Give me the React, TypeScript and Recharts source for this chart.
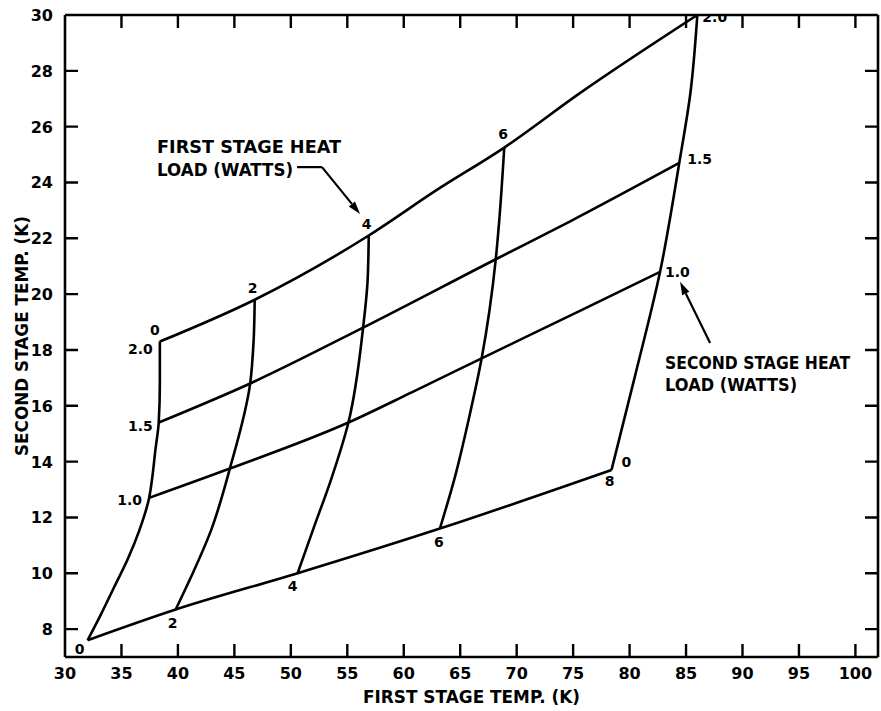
import { ComposedChart, Line, XAxis, YAxis, ReferenceLine } from "recharts";

// heat loads (watts) that label the two families of curves
const firstStageLoads = ["0", "2", "4", "6", "8"];
const secondStageLoads = ["0", "1.0", "1.5", "2.0"];

// axis ticks
const xTicks = [30, 35, 40, 45, 50, 55, 60, 65, 70, 75, 80, 85, 90, 95, 100];
const yTicks = [8, 10, 12, 14, 16, 18, 20, 22, 24, 26, 28, 30];

// constant first stage load curves, second stage load 0 -> 2.0 (T1 = first stage temp, T2 = second stage temp)
const q1Load0T1 = [32.0, 33.15, 34.35, 35.55, 36.55, 37.45, 37.75, 38.0, 38.3, 38.4, 38.4];
const q1Load0T2 = [7.6, 8.5, 9.5, 10.5, 11.5, 12.7, 13.5, 14.4, 15.4, 16.8, 18.3];
const q1Load2T1 = [39.8, 41.2, 42.9, 44.6, 46.4, 46.7, 46.8];
const q1Load2T2 = [8.7, 9.9, 11.5, 13.75, 16.8, 18.3, 19.8];
const q1Load4T1 = [50.6, 52.0, 53.6, 55.1, 56.4, 56.8, 56.9];
const q1Load4T2 = [10.0, 11.6, 13.4, 15.4, 18.8, 20.5, 22.1];
const q1Load6T1 = [63.2, 64.5, 65.8, 66.9, 68.15, 68.45, 68.9];
const q1Load6T2 = [11.6, 13.4, 15.6, 17.7, 21.25, 22.6, 25.25];
const q1Load8T1 = [78.4, 80.5, 82.7, 84.4, 85.4, 86.0];
const q1Load8T2 = [13.7, 17.1, 20.8, 24.7, 27.25, 30.0];

// constant second stage load curves, first stage load 0 -> 8
const q2Load0T1 = [32.0, 39.8, 50.6, 63.2, 78.4];
const q2Load0T2 = [7.6, 8.7, 10.0, 11.6, 13.7];
const q2Load10T1 = [37.45, 44.6, 55.1, 60.8, 66.9, 75.6, 82.7];
const q2Load10T2 = [12.7, 13.75, 15.4, 16.5, 17.7, 19.4, 20.8];
const q2Load15T1 = [38.3, 46.4, 56.4, 68.15, 74.7, 84.4];
const q2Load15T2 = [15.4, 16.8, 18.8, 21.25, 22.6, 24.7];
const q2Load20T1 = [38.4, 46.8, 56.9, 63.0, 68.9, 75.6, 86.0];
const q2Load20T2 = [18.3, 19.8, 22.1, 23.75, 25.25, 27.2, 30.0];

const zip = (t1: number[], t2: number[]) => t1.map((x, i) => ({ x, y: t2[i] }));

const X_DOMAIN: [number, number] = [30, 102];
const Y_DOMAIN: [number, number] = [7, 30];

const W = 881;
const H = 711;
const MARGIN = { top: 15, right: 3, bottom: 14, left: 0 };
const Y_AXIS_W = 65;
const X_AXIS_H = 40;
const TICK_LEN = 13;
const FRAME_W = 2.6;
const FONT = "'DejaVu Sans', Verdana, sans-serif";
const INK = "#000";

// tick length converted into data units, so the inward tick marks can be drawn as plain series
const PLOT_W = W - MARGIN.left - MARGIN.right - Y_AXIS_W;
const PLOT_H = H - MARGIN.top - MARGIN.bottom - X_AXIS_H;
const tickDx = (TICK_LEN * (X_DOMAIN[1] - X_DOMAIN[0])) / PLOT_W;
const tickDy = (TICK_LEN * (Y_DOMAIN[1] - Y_DOMAIN[0])) / PLOT_H;

type Pt = { x: number; y: number | null };
// short strokes separated by null gaps
const stubRow = (ts: number[], from: (t: number) => Pt, to: (t: number) => Pt): Pt[] =>
  ts.flatMap((t) => [from(t), to(t), { ...to(t), y: null }]);

const innerX = xTicks.slice(1);
const innerY = yTicks.slice(0, -1);
const tickStubs: { key: string; data: Pt[] }[] = [
  { key: "bottom", data: stubRow(innerX, (t) => ({ x: t, y: Y_DOMAIN[0] }), (t) => ({ x: t, y: Y_DOMAIN[0] + tickDy })) },
  { key: "top", data: stubRow(innerX, (t) => ({ x: t, y: Y_DOMAIN[1] }), (t) => ({ x: t, y: Y_DOMAIN[1] - tickDy })) },
  { key: "left", data: stubRow(innerY, (t) => ({ x: X_DOMAIN[0], y: t }), (t) => ({ x: X_DOMAIN[0] + tickDx, y: t })) },
  { key: "right", data: stubRow(innerY, (t) => ({ x: X_DOMAIN[1], y: t }), (t) => ({ x: X_DOMAIN[1] - tickDx, y: t })) },
];

type Tag = { dx: number; dy: number; anchor: "start" | "middle" | "end" };
type Curve = {
  key: string;
  // first stage curves climb in T2, second stage curves run along T1
  curve: "monotoneY" | "monotoneX";
  data: { x: number; y: number }[];
  first?: [string, Tag];
  last?: [string, Tag];
};

const below = (dx: number, dy = 18): Tag => ({ dx, dy, anchor: "middle" });
const above: Tag = { dx: -2, dy: -7, anchor: "middle" };

const curves: Curve[] = [
  { key: "q1-0", curve: "monotoneY", data: zip(q1Load0T1, q1Load0T2), last: [firstStageLoads[0], { dx: -5, dy: -7, anchor: "middle" }] },
  { key: "q1-2", curve: "monotoneY", data: zip(q1Load2T1, q1Load2T2), first: [firstStageLoads[1], below(-3)], last: [firstStageLoads[1], above] },
  { key: "q1-4", curve: "monotoneY", data: zip(q1Load4T1, q1Load4T2), first: [firstStageLoads[2], below(-5)], last: [firstStageLoads[2], above] },
  { key: "q1-6", curve: "monotoneY", data: zip(q1Load6T1, q1Load6T2), first: [firstStageLoads[3], below(-1)], last: [firstStageLoads[3], { dx: -1, dy: -9, anchor: "middle" }] },
  { key: "q1-8", curve: "monotoneY", data: zip(q1Load8T1, q1Load8T2), first: [firstStageLoads[4], below(-2, 16)] },
  {
    key: "q2-0",
    curve: "monotoneX",
    data: zip(q2Load0T1, q2Load0T2),
    first: [secondStageLoads[0], { dx: -3, dy: 14, anchor: "end" }],
    last: [secondStageLoads[0], { dx: 10, dy: -3, anchor: "start" }],
  },
  {
    key: "q2-10",
    curve: "monotoneX",
    data: zip(q2Load10T1, q2Load10T2),
    first: [secondStageLoads[1], { dx: -7, dy: 7, anchor: "end" }],
    last: [secondStageLoads[1], { dx: 5, dy: 5, anchor: "start" }],
  },
  {
    key: "q2-15",
    curve: "monotoneX",
    data: zip(q2Load15T1, q2Load15T2),
    first: [secondStageLoads[2], { dx: -6, dy: 8, anchor: "end" }],
    last: [secondStageLoads[2], { dx: 8, dy: 1, anchor: "start" }],
  },
  {
    key: "q2-20",
    curve: "monotoneX",
    data: zip(q2Load20T1, q2Load20T2),
    first: [secondStageLoads[3], { dx: -7, dy: 12, anchor: "end" }],
    last: [secondStageLoads[3], { dx: 5, dy: 7, anchor: "start" }],
  },
];

const textStyle = { fontFamily: FONT, fontWeight: 700, fill: INK };

function endLabels(c: Curve) {
  const n = c.data.length;
  return (p: any) => {
    const tag = p.index === 0 ? c.first : p.index === n - 1 ? c.last : undefined;
    if (!tag) return <g key={`${c.key}-${p.index}`} />;
    const [text, t] = tag;
    return (
      <text key={`${c.key}-${p.index}`} x={p.cx + t.dx} y={p.cy + t.dy} textAnchor={t.anchor} fontSize={14} {...textStyle}>
        {text}
      </text>
    );
  };
}

function BottomTick(props: any) {
  const { x, y, payload } = props;
  return (
    <text x={x} y={y + 22} textAnchor="middle" fontSize={16} {...textStyle}>
      {payload.value}
    </text>
  );
}

function LeftTick(props: any) {
  const { x, y, payload } = props;
  return (
    <text x={x - 12} y={y + 6} textAnchor="end" fontSize={16} {...textStyle}>
      {payload.value}
    </text>
  );
}

// leader line with a block of text hung off its start point
function leader(lines: [string, number, number][], dx: number, arrow: boolean) {
  return (p: any) => {
    const { x1, y1, x2, y2 } = p;
    const ang = Math.atan2(y2 - y1, x2 - x1);
    const L = 13;
    const w = 4;
    const bx = x2 - L * Math.cos(ang);
    const by = y2 - L * Math.sin(ang);
    const nx = -Math.sin(ang) * w;
    const ny = Math.cos(ang) * w;
    return (
      <g>
        <line x1={x1} y1={y1} x2={arrow ? bx : x2} y2={arrow ? by : y2} stroke={INK} strokeWidth={2.2} />
        {arrow && <polygon points={`${x2},${y2} ${bx + nx},${by + ny} ${bx - nx},${by - ny}`} fill={INK} />}
        {lines.map(([s, dy, len]) => (
          <text key={s} x={x1 + dx} y={y1 + dy} fontSize={17} textLength={len} lengthAdjust="spacingAndGlyphs" {...textStyle}>
            {s}
          </text>
        ))}
      </g>
    );
  };
}

export default function App() {
  return (
    <div style={{ position: "absolute", left: 0, top: 0, background: "#fff" }}>
      <ComposedChart width={W} height={H} margin={MARGIN}>
        <XAxis
          xAxisId={0}
          type="number"
          dataKey="x"
          domain={X_DOMAIN}
          ticks={xTicks}
          interval={0}
          allowDataOverflow
          height={X_AXIS_H}
          axisLine={{ stroke: INK, strokeWidth: FRAME_W }}
          tickLine={false}
          tickSize={0}
          tickMargin={0}
          tick={<BottomTick />}
          label={(p: any) => {
            const vb = p.viewBox ?? { x: Y_AXIS_W, y: H - MARGIN.bottom - X_AXIS_H, width: PLOT_W };
            return (
              <text x={vb.x + vb.width / 2} y={vb.y + 46} textAnchor="middle" fontSize={17} textLength={217} lengthAdjust="spacingAndGlyphs" {...textStyle}>
                FIRST STAGE TEMP. (K)
              </text>
            );
          }}
        />
        <YAxis
          yAxisId={0}
          type="number"
          dataKey="y"
          domain={Y_DOMAIN}
          ticks={yTicks}
          interval={0}
          allowDataOverflow
          width={Y_AXIS_W}
          axisLine={{ stroke: INK, strokeWidth: FRAME_W }}
          tickLine={false}
          tickSize={0}
          tickMargin={0}
          tick={<LeftTick />}
          label={(p: any) => {
            const vb = p.viewBox ?? { y: MARGIN.top, height: PLOT_H };
            const cx = 28;
            const cy = vb.y + vb.height / 2;
            return (
              <text x={cx} y={cy} transform={`rotate(-90 ${cx} ${cy})`} textAnchor="middle" fontSize={17} textLength={240} lengthAdjust="spacingAndGlyphs" {...textStyle}>
                SECOND STAGE TEMP. (K)
              </text>
            );
          }}
        />
        {/* top and right edges of the frame */}
        <ReferenceLine y={Y_DOMAIN[1]} ifOverflow="visible" stroke={INK} strokeWidth={FRAME_W} />
        <ReferenceLine x={X_DOMAIN[1]} ifOverflow="visible" stroke={INK} strokeWidth={FRAME_W} />
        {tickStubs.map((s) => (
          <Line
            key={`tick-${s.key}`}
            data={s.data}
            dataKey="y"
            type="linear"
            stroke={INK}
            strokeWidth={2.4}
            dot={false}
            activeDot={false}
            connectNulls={false}
            isAnimationActive={false}
          />
        ))}
        {curves.map((c) => (
          <Line
            key={c.key}
            data={c.data}
            dataKey="y"
            type={c.curve}
            stroke={INK}
            strokeWidth={2.6}
            dot={endLabels(c)}
            activeDot={false}
            isAnimationActive={false}
          />
        ))}
        <ReferenceLine
          segment={[{ x: 50.55, y: 24.55 }, { x: 52.76, y: 24.55 }]}
          shape={leader([["FIRST STAGE HEAT", -14, 184], ["LOAD (WATTS)", 9, 136]], -140, false)}
        />
        <ReferenceLine segment={[{ x: 52.76, y: 24.55 }, { x: 56.13, y: 22.87 }]} shape={leader([], 0, true)} />
        <ReferenceLine
          segment={[{ x: 87.13, y: 18.25 }, { x: 84.47, y: 20.44 }]}
          shape={leader([["SECOND STAGE HEAT", 26, 185], ["LOAD (WATTS)", 48, 132]], -45, true)}
        />
      </ComposedChart>
    </div>
  );
}
